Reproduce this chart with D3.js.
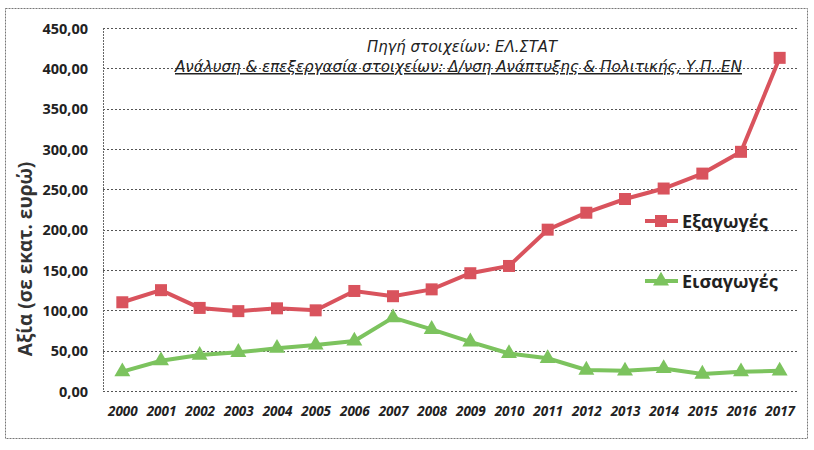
<!DOCTYPE html>
<html><head><meta charset="utf-8">
<script src="https://cdn.jsdelivr.net/npm/d3@7/dist/d3.min.js"></script>
<style>body{margin:0;background:#fff}svg{display:block}</style>
</head><body><svg id="c" width="814" height="450"></svg>
<script>
const years = ["2000","2001","2002","2003","2004","2005","2006","2007","2008","2009","2010","2011","2012","2013","2014","2015","2016","2017"];
const exportsVals = [110,125,103,99,102.5,100,124,117.5,126,146,155,200,221,238,251,269.5,296.5,413];
const importsVals = [24,37.5,44.5,48,53,57,62,91,76.5,61,46.5,40.5,26,25,28,21,24,25];
const yTicks = [0,50,100,150,200,250,300,350,400,450];
const seriesNames = ["Εξαγωγές","Εισαγωγές"];
const yTitle = "Αξία (σε εκατ. ευρώ)";
const note1 = "Πηγή στοιχείων: ΕΛ.ΣΤΑΤ";
const note2 = "Ανάλυση & επεξεργασία στοιχείων: Δ/νση Ανάπτυξης & Πολιτικής, Υ.Π..ΕΝ";

const svg = d3.select("#c");
const L=103, R=799, T=28, B=391;
const red="#d9535d", green="#7cc35e";
const x = d3.scalePoint().domain(years).range([L,R]).padding(0.5);
const y = d3.scaleLinear().domain([0,450]).range([B,T]);

// outer frame
svg.append("rect").attr("x",5.5).attr("y",8.5).attr("width",802).attr("height",430)
  .attr("fill","none").attr("stroke","#777").attr("stroke-width",1).attr("stroke-dasharray","2,1");

// grid
svg.append("g").selectAll("line").data(yTicks).join("line")
  .attr("x1",L).attr("x2",R).attr("y1",d=>Math.round(y(d))+0.5).attr("y2",d=>Math.round(y(d))+0.5)
  .attr("stroke","#555").attr("stroke-width",1).attr("stroke-dasharray","2,2");
svg.append("line").attr("x1",L+0.5).attr("x2",L+0.5).attr("y1",T).attr("y2",B)
  .attr("stroke","#666").attr("stroke-dasharray","2,1");

// y axis
const yAxis = d3.axisLeft(y).tickValues(yTicks).tickSize(0).tickPadding(0)
  .tickFormat(d=>d3.format(".2f")(d).replace(".",","));
const gy = svg.append("g").attr("transform",`translate(88,0)`).call(yAxis);
gy.select(".domain").remove();
gy.selectAll("text").attr("font-family","'Open Sans',sans-serif").attr("font-weight","bold")
  .attr("font-size",14.5).attr("fill","#222").attr("dy","0.35em");

// x axis
const xAxis = d3.axisBottom(x).tickSize(0).tickPadding(0);
const gx = svg.append("g").attr("transform",`translate(0,411)`).call(xAxis);
gx.select(".domain").remove();
gx.selectAll("text").attr("font-family","'Open Sans',sans-serif").attr("font-weight","bold")
  .attr("font-style","italic").attr("font-size",13.5).attr("fill","#222").attr("dy","0.35em");

// y title
svg.append("text").attr("transform","translate(32,259) rotate(-90)").attr("text-anchor","middle")
  .attr("font-family","'Open Sans',sans-serif").attr("font-weight","bold").attr("font-size",19)
  .attr("fill","#333").text(yTitle);

// notes
svg.append("text").attr("x",462).attr("y",52).attr("text-anchor","middle")
  .attr("font-family","'DejaVu Sans',sans-serif").attr("font-style","italic").attr("font-size",15)
  .attr("textLength",190).attr("lengthAdjust","spacingAndGlyphs")
  .attr("fill","#222").text(note1);
svg.append("text").attr("x",458.5).attr("y",72).attr("text-anchor","middle")
  .attr("font-family","'DejaVu Sans',sans-serif").attr("font-style","italic").attr("font-size",15)
  .attr("textLength",567).attr("lengthAdjust","spacingAndGlyphs")
  .attr("fill","#222").attr("text-decoration","underline").text(note2);

// lines
const line = d3.line().x((d,i)=>x(years[i])).y(d=>y(d));
svg.append("path").datum(importsVals).attr("d",line).attr("fill","none").attr("stroke",green).attr("stroke-width",4);
svg.append("path").datum(exportsVals).attr("d",line).attr("fill","none").attr("stroke",red).attr("stroke-width",4);

const tri = d3.symbol().type(d3.symbolTriangle).size(110);
svg.append("g").selectAll("path").data(importsVals).join("path")
  .attr("d",tri).attr("transform",(d,i)=>`translate(${x(years[i])},${y(d)})`).attr("fill",green);
svg.append("g").selectAll("rect").data(exportsVals).join("rect")
  .attr("x",(d,i)=>x(years[i])-6).attr("y",d=>y(d)-6).attr("width",12).attr("height",12).attr("fill",red);

// legend
const leg = [{name:seriesNames[0],c:red,yy:221,shape:"sq"},{name:seriesNames[1],c:green,yy:281,shape:"tri"}];
leg.forEach(l=>{
  svg.append("line").attr("x1",645).attr("x2",678).attr("y1",l.yy).attr("y2",l.yy).attr("stroke",l.c).attr("stroke-width",4);
  if(l.shape==="sq") svg.append("rect").attr("x",655).attr("y",l.yy-6).attr("width",12).attr("height",12).attr("fill",l.c);
  else svg.append("path").attr("d",tri).attr("transform",`translate(661,${l.yy})`).attr("fill",l.c);
  svg.append("text").attr("x",682).attr("y",l.yy+6.5).attr("font-family","'Open Sans',sans-serif").attr("font-weight",700)
    .attr("font-size",18).attr("fill","#222").text(l.name);
});
</script></body></html>
